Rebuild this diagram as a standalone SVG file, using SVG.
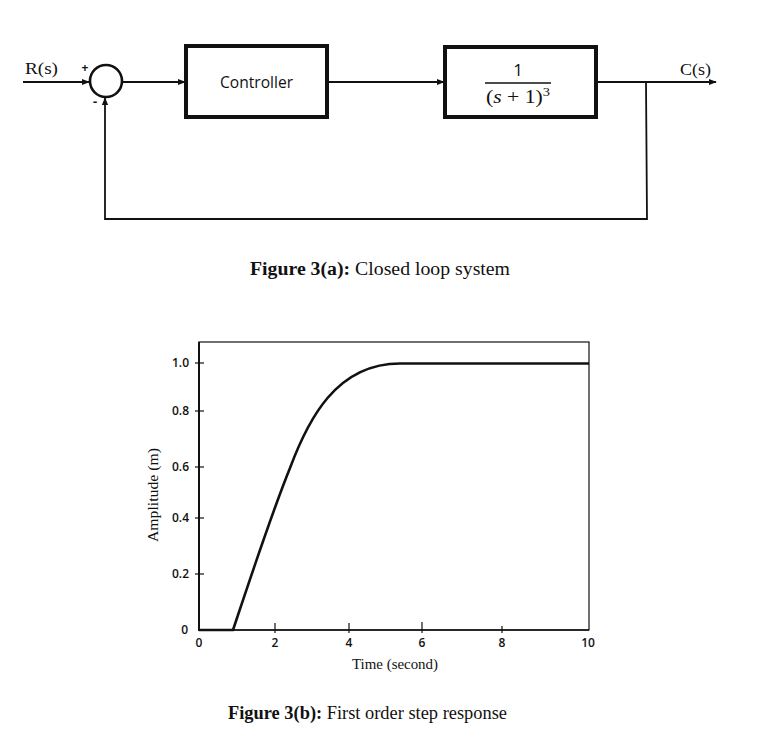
<svg xmlns="http://www.w3.org/2000/svg" width="764" height="744" viewBox="0 0 764 744">
<style>
.ln{fill:none;stroke:#111;stroke-width:1.8}
.box{fill:#fff;stroke:#111;stroke-width:4}
.ser{font-family:"Liberation Serif","Times New Roman",serif;fill:#111}
.sans{font-family:"Open Sans","Liberation Sans",sans-serif;fill:#111}
.tk{font-family:"Open Sans","Liberation Sans",sans-serif;font-size:12px;font-weight:600;fill:#111}
.thin{fill:none;stroke:#111;stroke-width:1.2}
</style>
<defs>
<marker id="ah" viewBox="0 0 10 10" refX="9" refY="5" markerWidth="8" markerHeight="8" markerUnits="userSpaceOnUse" orient="auto">
<path d="M0,1 L10,5 L0,9 z" fill="#111"/>
</marker>
</defs>
<rect x="0" y="0" width="764" height="744" fill="#fff"/>
<g id="connectors">
<line class="ln" x1="23" y1="82" x2="89" y2="82" marker-end="url(#ah)"/>
<line class="ln" x1="122" y1="82" x2="185" y2="82" marker-end="url(#ah)"/>
<line class="ln" x1="328" y1="82" x2="444" y2="82" marker-end="url(#ah)"/>
<line class="ln" x1="597" y1="82" x2="716" y2="82" marker-end="url(#ah)"/>
<polyline class="ln" points="646,82 647,219 105,219 105,98" marker-end="url(#ah)"/>
</g>
<g id="input-label">
<text class="ser" x="25" y="74" font-size="16" textLength="33" lengthAdjust="spacingAndGlyphs">R(s)</text>
<text class="sans" x="85" y="72" font-size="12" font-weight="bold" text-anchor="middle">+</text>
<text class="sans" x="95" y="106" font-size="13" font-weight="bold" text-anchor="middle">-</text>
</g>
<g id="sum">
<circle cx="106" cy="81" r="16" fill="#fff" stroke="#111" stroke-width="2.6"/>
</g>
<g id="controller">
<rect class="box" x="186" y="46" width="141" height="71"/>
<text class="sans" x="220" y="88" font-size="16" textLength="73" lengthAdjust="spacingAndGlyphs">Controller</text>
</g>
<g id="plant">
<rect class="box" x="445" y="47" width="151" height="70"/>
<text class="sans" x="518" y="76" font-size="17" text-anchor="middle">1</text>
<line x1="485" y1="83" x2="551" y2="83" stroke="#111" stroke-width="1.3"/>
<text class="ser" x="486" y="103" font-size="18" textLength="64" lengthAdjust="spacingAndGlyphs">(<tspan font-style="italic">s</tspan> + 1)<tspan font-size="12" dy="-7">3</tspan></text>
</g>
<g id="output-label">
<text class="ser" x="680" y="75" font-size="16" textLength="31" lengthAdjust="spacingAndGlyphs">C(s)</text>
</g>
<g id="caption-a">
<text class="ser" x="250" y="275" font-size="18.5" textLength="260" lengthAdjust="spacingAndGlyphs"><tspan font-weight="bold">Figure 3(a):</tspan> Closed loop system</text>
</g>
<g id="plot">
<rect class="thin" x="199" y="342" width="390" height="288"/>
<line x1="199" y1="342" x2="199" y2="631" stroke="#111" stroke-width="2"/>
<line x1="199" y1="630" x2="589" y2="630" stroke="#111" stroke-width="1.5"/>
<g stroke="#111" stroke-width="1.2">
<line x1="195" y1="363" x2="204" y2="363"/>
<line x1="195" y1="411" x2="204" y2="411"/>
<line x1="195" y1="467" x2="204" y2="467"/>
<line x1="195" y1="518" x2="204" y2="518"/>
<line x1="195" y1="574" x2="204" y2="574"/>
<line x1="275" y1="623" x2="275" y2="633"/>
<line x1="349" y1="623" x2="349" y2="633"/>
<line x1="422" y1="622" x2="422" y2="633"/>
<line x1="502" y1="626" x2="502" y2="633"/>
</g>
<path d="M199,630 L233,630 C252,573 271,515 290,468 C308,420 336,363.5 400,363.5 L589,363.5" fill="none" stroke="#111" stroke-width="2.6" stroke-linejoin="round"/>
<text class="tk" x="189" y="367" text-anchor="end">1.0</text>
<text class="tk" x="189" y="415" text-anchor="end">0.8</text>
<text class="tk" x="189" y="471" text-anchor="end">0.6</text>
<text class="tk" x="189" y="522" text-anchor="end">0.4</text>
<text class="tk" x="189" y="578" text-anchor="end">0.2</text>
<text class="tk" x="188" y="634" text-anchor="end">0</text>
<text class="tk" x="199" y="647" text-anchor="middle">0</text>
<text class="tk" x="275" y="647" text-anchor="middle">2</text>
<text class="tk" x="349" y="647" text-anchor="middle">4</text>
<text class="tk" x="422" y="647" text-anchor="middle">6</text>
<text class="tk" x="502" y="647" text-anchor="middle">8</text>
<text class="tk" x="588" y="647" text-anchor="middle">10</text>
<text class="ser" x="352" y="669" font-size="15" textLength="86" lengthAdjust="spacingAndGlyphs">Time (second)</text>
<text class="ser" transform="translate(158,542) rotate(-90)" font-size="15" textLength="94" lengthAdjust="spacingAndGlyphs">Amplitude (m)</text>
</g>
<g id="caption-b">
<text class="ser" x="228" y="719" font-size="18.5" textLength="279" lengthAdjust="spacingAndGlyphs"><tspan font-weight="bold">Figure 3(b):</tspan> First order step response</text>
</g>
</svg>
